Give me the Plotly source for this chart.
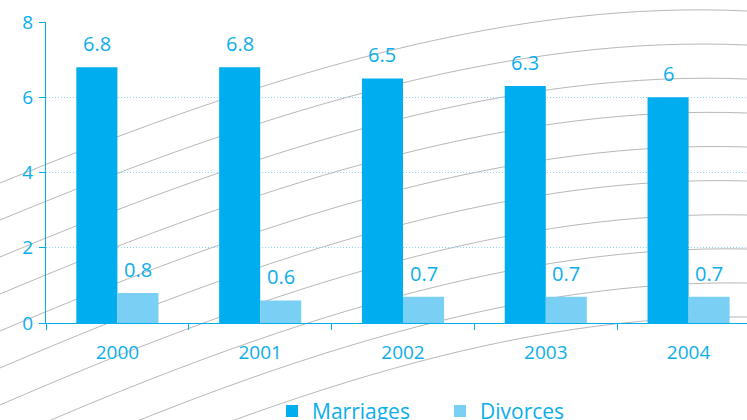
import plotly.graph_objects as go

years = ["2000", "2001", "2002", "2003", "2004"]
marriages = [6.8, 6.8, 6.5, 6.3, 6.0]
divorces = [0.8, 0.6, 0.7, 0.7, 0.7]
marriage_labels = ["6.8", "6.8", "6.5", "6.3", "6"]
divorce_labels = ["0.8", "0.6", "0.7", "0.7", "0.7"]
y_ticks = [0, 2, 4, 6, 8]

BLUE = "#00AEEF"
LIGHT = "#7ACFF5"
TEXT = "#0AAEEB"
FONT = "Open Sans"

W, H = 747, 420
L, R, T, B = 46, 0, 22, 97
PW, PH = W - L - R, H - T - B

fig = go.Figure()
fig.add_trace(go.Bar(name="Marriages", x=years, y=marriages, marker_color=BLUE,
                     marker_line_width=0))
fig.add_trace(go.Bar(name="Divorces", x=years, y=divorces, marker_color=LIGHT,
                     marker_line_width=0))

bargap = 0.425
half = (1 - bargap) / 4
ann = []
for i, (m, d) in enumerate(zip(marriages, divorces)):
    ann.append(dict(x=i - half, y=m, text=marriage_labels[i], showarrow=False,
                    yanchor="bottom", yshift=8, font=dict(size=20, color=TEXT, family=FONT)))
    ann.append(dict(x=i + half, y=d, text=divorce_labels[i], showarrow=False,
                    yanchor="bottom", yshift=8, font=dict(size=20, color=TEXT, family=FONT)))

# decorative background arcs (pixel space -> paper space)
def px2paper(px, py):
    return (px - L) / PW, (T + PH - py) / PH

base = [(0, 183), (280, 68), (520, 0), (747, 11)]
shapes = []
for i in range(10):
    pts = [(x, y + i * (37 - 3 * x / 747)) for x, y in base]
    pp = [px2paper(x, y) for x, y in pts]
    path = "M {:.4f},{:.4f} C {:.4f},{:.4f} {:.4f},{:.4f} {:.4f},{:.4f}".format(
        pp[0][0], pp[0][1], pp[1][0], pp[1][1], pp[2][0], pp[2][1], pp[3][0], pp[3][1])
    shapes.append(dict(type="path", path=path, xref="paper", yref="paper",
                       line=dict(color="#B8B8B8", width=1), layer="below"))

fig.update_layout(
    width=W, height=H,
    margin=dict(l=L, r=R, t=T, b=B, autoexpand=False),
    paper_bgcolor="white", plot_bgcolor="rgba(0,0,0,0)",
    barmode="group", bargap=bargap, bargroupgap=0,
    font=dict(family=FONT, color=TEXT),
    annotations=ann, shapes=shapes,
    legend=dict(orientation="h", x=(272 - L) / PW, xanchor="left", y=-0.225, yanchor="top",
                entrywidth=123, entrywidthmode="pixels",
                font=dict(size=21, color=TEXT, family=FONT), bgcolor="rgba(0,0,0,0)",
                traceorder="normal"),
    showlegend=True,
)
fig.update_xaxes(type="category", range=[-0.5, 4.409], tickson="boundaries",
                 ticks="outside", ticklen=6, tickcolor=BLUE, showline=True,
                 linecolor=BLUE, linewidth=1, showgrid=False, ticklabelstandoff=12,
                 tickfont=dict(size=19, color=TEXT, family=FONT))
fig.update_yaxes(range=[0, 8], tickvals=y_ticks, ticks="outside", ticklen=6,
                 tickcolor=BLUE, showline=True, linecolor=BLUE, linewidth=1,
                 showgrid=True, gridcolor="#8FD3F0", griddash="1px,2px", gridwidth=1,
                 zeroline=False, ticklabelstandoff=2,
                 tickfont=dict(size=19, color=TEXT, family=FONT))

fig.write_html("out.html", config={"displayModeBar": False},
               post_script="document.body.style.margin='0';document.body.style.overflow='hidden';")
